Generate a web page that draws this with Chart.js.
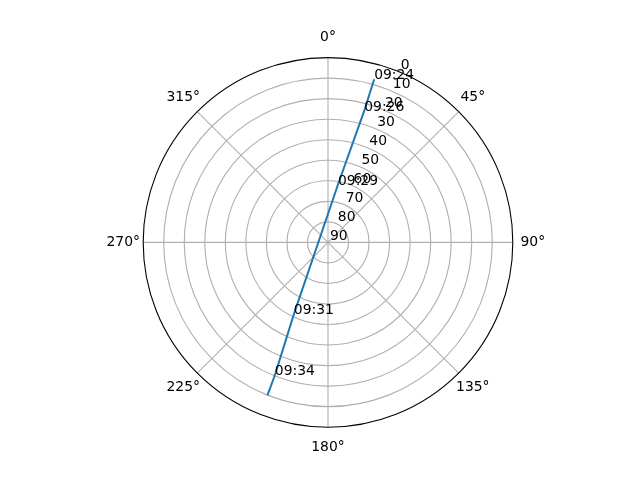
<!DOCTYPE html>
<html>
<head>
<meta charset="utf-8">
<script src="https://cdn.jsdelivr.net/npm/chart.js@4/dist/chart.umd.min.js"></script>
<style>body{margin:0;background:#fff}</style>
</head>
<body>
<canvas id="cnv" width="640" height="480" style="width:640px;height:480px"></canvas>
<script>
// satellite track (azimuth deg clockwise from N, elevation deg)
var times     = ['09:24', '09:26', '09:29', '09:31', '09:34', ''];
var azimuth   = [15.8, 15.4, 9.8, 205.4, 201.8, 201.6];
var elevation = [7.4, 23.6, 61.4, 51.2, 20.3, 9.9];

var rTicks = [0, 10, 20, 30, 40, 50, 60, 70, 80, 90];
var thetaTicks = [0, 45, 90, 135, 180, 225, 270, 315];

var FONT = '13.9px "DejaVu Sans", sans-serif';

// polar -> cartesian (zenith distance as radius, north up, clockwise)
var points = azimuth.map(function(az, i){
    var r = 90 - elevation[i];
    var a = az * Math.PI / 180;
    return {x: r * Math.sin(a), y: r * Math.cos(a)};
});

var polarGrid = {
    id: 'polarGrid',
    beforeDatasetsDraw: function(chart){
        var ctx = chart.ctx, xs = chart.scales.x, ys = chart.scales.y;
        var cx = xs.getPixelForValue(0), cy = ys.getPixelForValue(0);
        var unit = xs.getPixelForValue(1) - cx;
        var R = 90 * unit;
        ctx.save();
        ctx.strokeStyle = '#b0b0b0';
        ctx.lineWidth = 1.1;
        rTicks.forEach(function(t){
            var rr = (90 - t) * unit;
            if (rr <= 0 || t === 0) return;
            ctx.beginPath(); ctx.arc(cx, cy, rr, 0, Math.PI * 2); ctx.stroke();
        });
        thetaTicks.forEach(function(t){
            var a = t * Math.PI / 180;
            ctx.beginPath();
            ctx.moveTo(cx, cy);
            ctx.lineTo(cx + R * Math.sin(a), cy - R * Math.cos(a));
            ctx.stroke();
        });
        ctx.strokeStyle = '#000';
        ctx.lineWidth = 1.1;
        ctx.beginPath(); ctx.arc(cx, cy, R, 0, Math.PI * 2); ctx.stroke();

        ctx.fillStyle = '#000';
        ctx.font = FONT;
        ctx.textAlign = 'center';
        ctx.textBaseline = 'middle';
        thetaTicks.forEach(function(t){
            var a = t * Math.PI / 180, d = R + 20;
            ctx.fillText(t + '°', cx + d * Math.sin(a), cy - d * Math.cos(a));
        });
        ctx.textAlign = 'left';
        ctx.textBaseline = 'alphabetic';
        var la = 22.5 * Math.PI / 180;
        rTicks.forEach(function(t){
            var rr = (90 - t) * unit;
            ctx.fillText(String(t), cx + rr * Math.sin(la) + 2, cy - rr * Math.cos(la) - 2.5);
        });
        ctx.restore();
    },
    afterDatasetsDraw: function(chart){
        var ctx = chart.ctx;
        var meta = chart.getDatasetMeta(0);
        ctx.save();
        ctx.fillStyle = '#000';
        ctx.font = FONT;
        ctx.textAlign = 'left';
        ctx.textBaseline = 'alphabetic';
        meta.data.forEach(function(el, i){
            if (times[i]) ctx.fillText(times[i], el.x, el.y);
        });
        ctx.restore();
    }
};

var myChart = new Chart(document.getElementById('cnv'), {
    type: 'scatter',
    data: {
        datasets: [{
            data: points,
            showLine: true,
            borderColor: '#1f77b4',
            borderWidth: 2,
            pointRadius: 0,
            fill: false
        }]
    },
    options: {
        responsive: false,
        animation: false,
        layout: {padding: {left: 143.2, right: 127.2, top: 57.6, bottom: 52.8}},
        plugins: {legend: {display: false}, tooltip: {enabled: false}},
        scales: {
            x: {type: 'linear', min: -90, max: 90, display: false},
            y: {type: 'linear', min: -90, max: 90, display: false}
        }
    },
    plugins: [polarGrid]
});
</script>
</body>
</html>
